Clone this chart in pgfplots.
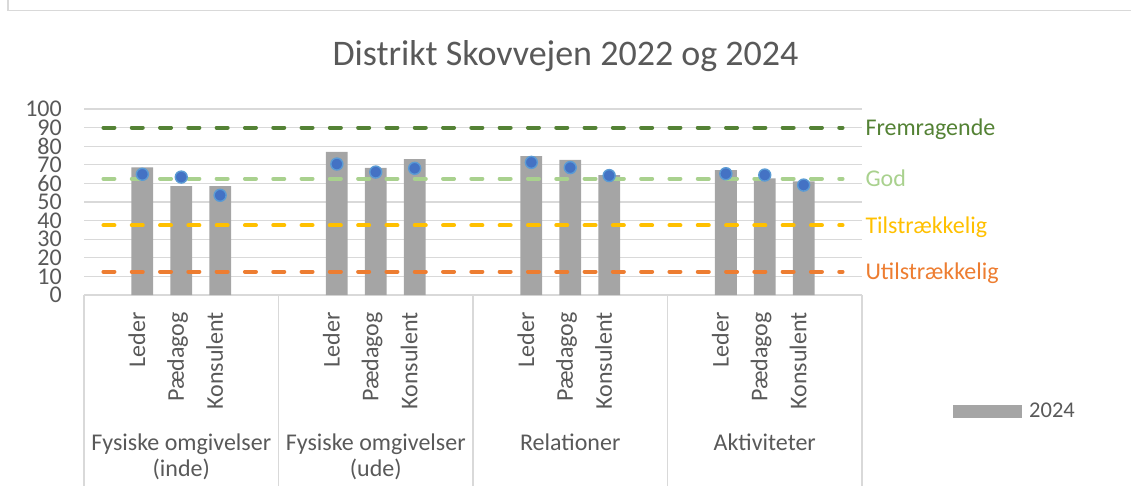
\documentclass[border=0pt]{standalone}
\usepackage{pgfplots}
\pgfplotsset{compat=1.18}
\usepackage{fontspec}
\setmainfont{Carlito}
\definecolor{gridgray}{HTML}{D9D9D9}
\definecolor{txtgray}{HTML}{595959}
\definecolor{bargray}{HTML}{A5A5A5}
\definecolor{dotblue}{HTML}{4472C4}
\definecolor{dotedge}{HTML}{5B9BD5}
\definecolor{dkgreen}{HTML}{548235}
\definecolor{ltgreen}{HTML}{A9D18E}
\definecolor{gold}{HTML}{FFC000}
\definecolor{orng}{HTML}{ED7D31}
\begin{document}
\begin{tikzpicture}
\useasboundingbox (0bp,0bp) rectangle (1131bp,493bp);
% chart border
\draw[gridgray, line width=1.2bp] (8bp,493bp) -- (8bp,482.5bp) -- (1131bp,482.5bp);
% title
\node[anchor=base, text=txtgray, font=\fontsize{36bp}{40bp}\selectfont] at (565.5bp,427bp) {Distrikt Skovvejen 2022 og 2024};
\begin{axis}[
  at={(84bp,198bp)}, anchor=south west,
  scale only axis, width=778bp, height=186bp,
  xmin=-0.5, xmax=19.5, ymin=0, ymax=100,
  clip=false,
  axis line style={draw=none},
  major tick length=0pt,
  ytick={0,10,...,100},
  xtick={1,2,3,6,7,8,11,12,13,16,17,18},
  xticklabels={Leder,Pædagog,Konsulent,Leder,Pædagog,Konsulent,Leder,Pædagog,Konsulent,Leder,Pædagog,Konsulent},
  ymajorgrids,
  grid style={draw=gridgray, line width=1.2bp},
  /pgf/number format/assume math mode=true,
  yticklabel style={font=\fontsize{24bp}{26bp}\selectfont, text=txtgray, anchor=east, inner sep=0pt, xshift=-22bp},
  xticklabel shift=17bp,
  xticklabel style={font=\fontsize{24bp}{26bp}\selectfont, text=txtgray, rotate=90, anchor=east, inner sep=0pt, text height=0.75em, text depth=0.2em},
  legend style={draw=none, fill=none, at={(rel axis cs:1.117,-0.6237)}, anchor=west, inner sep=0pt,
    font=\fontsize{22.5bp}{24bp}\selectfont, text=txtgray,
    /tikz/every odd column/.append style={column sep=5bp}},
  legend cell align=left,
]
\addplot[ybar, bar width=0.56, fill=bargray, draw=none,
  legend image code/.code={\fill[bargray] (0bp,-6.5bp) rectangle (69bp,6.5bp);}]
  coordinates {(1,68.6) (2,58.6) (3,58.6) (6,76.9) (7,68.3) (8,73.1) (11,74.7) (12,72.6) (13,64.5) (16,67.2) (17,62.7) (18,61.1)};
\addlegendentry{2024}
\addplot[forget plot, dkgreen, line width=4bp, line cap=round, dash pattern=on 11bp off 17.3bp] coordinates {(0,90) (19,90)};
\addplot[forget plot, ltgreen, line width=4bp, line cap=round, dash pattern=on 11bp off 17.3bp] coordinates {(0,62.5) (19,62.5)};
\addplot[forget plot, gold, line width=4bp, line cap=round, dash pattern=on 11bp off 17.3bp] coordinates {(0,37.5) (19,37.5)};
\addplot[forget plot, orng, line width=4bp, line cap=round, dash pattern=on 11bp off 17.3bp] coordinates {(0,12.5) (19,12.5)};
\addplot[forget plot, only marks, mark=*, mark size=6bp, mark options={fill=dotblue, draw=dotedge, line width=1.4bp}]
  coordinates {(1,64.9) (2,63.4) (3,53.6) (6,70.4) (7,66.1) (8,68.1) (11,71.3) (12,68.5) (13,64.2) (16,65.2) (17,64.5) (18,59.1)};
% right labels
\node[anchor=base west, text=dkgreen, font=\fontsize{24bp}{26bp}\selectfont, xshift=0bp, yshift=-8bp] at (axis cs:19.5,90) {Fremragende};
\node[anchor=base west, text=ltgreen, font=\fontsize{24bp}{26bp}\selectfont, xshift=0bp, yshift=-8bp] at (axis cs:19.5,62.5) {God};
\node[anchor=base west, text=gold, font=\fontsize{24bp}{26bp}\selectfont, xshift=0bp, yshift=-8bp] at (axis cs:19.5,37.5) {Tilstrækkelig};
\node[anchor=base west, text=orng, font=\fontsize{24bp}{26bp}\selectfont, xshift=0bp, yshift=-8bp] at (axis cs:19.5,12.5) {Utilstrækkelig};
% group separators
\pgfplotsinvokeforeach{-0.5,4.5,9.5,14.5,19.5}{
  \draw[gridgray, line width=1.2bp] (axis cs:#1,0) -- ([yshift=-191bp]axis cs:#1,0);
}
% group labels
\node[anchor=base, text=txtgray, font=\fontsize{24bp}{26bp}\selectfont, yshift=-155bp] at (axis cs:2,0) {Fysiske omgivelser};
\node[anchor=base, text=txtgray, font=\fontsize{24bp}{26bp}\selectfont, yshift=-181bp] at (axis cs:2,0) {(inde)};
\node[anchor=base, text=txtgray, font=\fontsize{24bp}{26bp}\selectfont, yshift=-155bp] at (axis cs:7,0) {Fysiske omgivelser};
\node[anchor=base, text=txtgray, font=\fontsize{24bp}{26bp}\selectfont, yshift=-181bp] at (axis cs:7,0) {(ude)};
\node[anchor=base, text=txtgray, font=\fontsize{24bp}{26bp}\selectfont, yshift=-155bp] at (axis cs:12,0) {Relationer};
\node[anchor=base, text=txtgray, font=\fontsize{24bp}{26bp}\selectfont, yshift=-155bp] at (axis cs:17,0) {Aktiviteter};
\end{axis}
\end{tikzpicture}
\end{document}
